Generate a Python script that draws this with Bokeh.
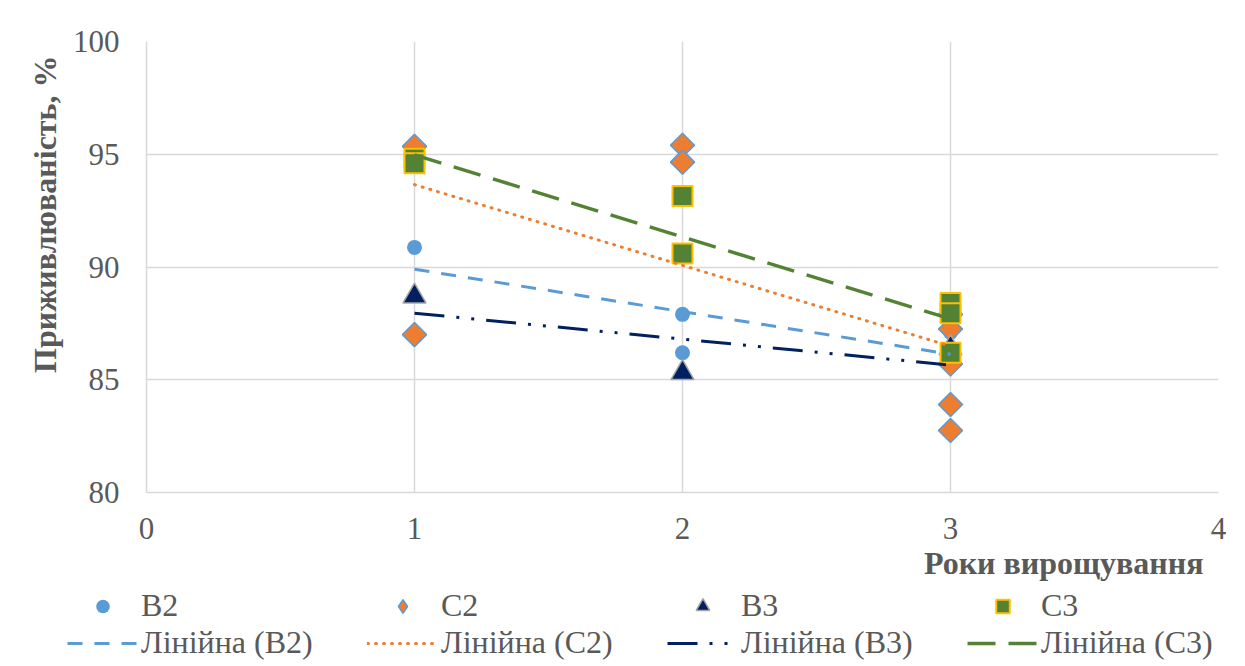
import numpy as np
from bokeh.plotting import figure
from bokeh.models import Legend, LegendItem, Title, FixedTicker
from bokeh.layouts import column, row
from bokeh.embed import file_html
from bokeh.resources import INLINE

# ---- data ----
b2_x = [1, 2, 2, 3]
b2_y = [90.87, 87.9, 86.2, 87.1]
c2_x = [1, 1, 2, 2, 3, 3, 3, 3, 3]
c2_y = [95.35, 87.0, 95.4, 94.65, 87.9, 87.25, 85.7, 83.9, 82.75]
b3_x = [1, 2, 3]
b3_y = [88.7, 85.3, 86.4]
c3_x = [1, 1, 2, 2, 3, 3, 3]
c3_y = [94.8, 94.6, 93.15, 90.6, 88.4, 87.95, 86.2]

series_names = ["B2", "C2", "B3", "C3"]
trend_names = ["Лінійна (B2)", "Лінійна (C2)", "Лінійна (B3)", "Лінійна (C3)"]
x_ticks = [0, 1, 2, 3, 4]
y_ticks = [80, 85, 90, 95, 100]
x_title = "Роки вирощування"
y_title = "Приживлюваність, %"

FONT = "Liberation Serif"
TXT = "#595959"
GRID = "#d9d9d9"

marker_styles = [
    dict(marker="circle", size=15, angle=0, fill_color="#5B9BD5", line_color=None, line_width=1),
    dict(marker="square", size=17, angle=np.pi / 4, fill_color="#ED7D31", line_color="#5B9BD5", line_width=1.5),
    dict(marker="triangle", size=23, angle=0, fill_color="#002060", line_color="#A5A5A5", line_width=1.5),
    dict(marker="square", size=20, angle=0, fill_color="#548235", line_color="#FFC000", line_width=2),
]
legend_markers = ["circle", "diamond", "triangle", "square"]
line_styles = [
    dict(line_color="#5B9BD5", line_width=3, line_dash="15 12", line_cap="butt"),
    dict(line_color="#ED7D31", line_width=3, line_dash="1 7", line_cap="round"),
    dict(line_color="#002060", line_width=3, line_dash="30 12 3 12 3 12", line_cap="butt"),
    dict(line_color="#548235", line_width=3.5, line_dash="28 13", line_cap="butt"),
]

p = figure(frame_width=1072, frame_height=451, x_range=(0, 4), y_range=(80, 100),
           output_backend="svg", toolbar_location=None,
           min_border_left=146, min_border_top=41, min_border_right=20, min_border_bottom=0)
p.outline_line_color = None
p.background_fill_color = "white"
p.border_fill_color = "white"

for ax in (p.xaxis[0], p.yaxis[0]):
    ax.major_tick_in = 0
    ax.major_tick_out = 0
    ax.minor_tick_in = 0
    ax.minor_tick_out = 0
    ax.axis_line_color = GRID
    ax.axis_line_width = 1.5
    ax.major_label_text_font = FONT
    ax.major_label_text_font_size = "31px"
    ax.major_label_text_color = TXT
p.xaxis[0].ticker = FixedTicker(ticks=x_ticks)
p.yaxis[0].ticker = FixedTicker(ticks=y_ticks)
p.xaxis[0].major_label_standoff = 25
p.yaxis[0].major_label_standoff = 27
p.xgrid[0].ticker = FixedTicker(ticks=x_ticks)
p.ygrid[0].ticker = FixedTicker(ticks=y_ticks)
for g in (p.xgrid[0], p.ygrid[0]):
    g.grid_line_color = GRID
    g.grid_line_width = 1.5

# ---- markers ----
data = [(b2_x, b2_y), (c2_x, c2_y), (b3_x, b3_y), (c3_x, c3_y)]
for (xs, ys), ms in zip(data, marker_styles):
    p.scatter(xs, ys, **ms)

# ---- linear trend lines (least squares, as Excel) ----
def trend(xs, ys):
    k, b = np.polyfit(xs, ys, 1)
    xx = [min(xs), max(xs)]
    return xx, [k * v + b for v in xx]

for (xs, ys), ls in zip(data, line_styles):
    tx, ty = trend(xs, ys)
    p.line(tx, ty, **ls)

# ---- axis titles ----
p.add_layout(Title(text=x_title, align="right", offset=15, text_font=FONT,
                   text_font_size="32px", text_font_style="bold", text_color=TXT,
                   standoff=2), "below")
p.add_layout(Title(text=y_title, align="right", offset=14, text_font=FONT,
                   text_font_size="32px", text_font_style="bold", text_color=TXT,
                   standoff=13), "left")

# ---- legend strip (separate figure below the chart) ----
lf = figure(width=1238, height=80, x_range=(0, 1), y_range=(0, 1),
            x_axis_type=None, y_axis_type=None,
            min_border=0, min_border_left=0, min_border_right=0,
            min_border_top=0, min_border_bottom=0,
            output_backend="svg", toolbar_location=None)
lf.outline_line_color = None
lf.background_fill_color = "white"
lf.border_fill_color = "white"
lf.xgrid.visible = False
lf.ygrid.visible = False

marker_items, line_items = [], []
for name, tname, ms, lm, ls in zip(series_names, trend_names, marker_styles, legend_markers, line_styles):
    st = dict(ms)
    st["marker"] = lm
    st.pop("angle")
    st.pop("size")
    rm = lf.scatter([-5], [-5], size=15, **st)
    rl = lf.line([-5, -4], [-5, -5], **ls)
    marker_items.append(LegendItem(label=name, renderers=[rm]))
    line_items.append(LegendItem(label=tname, renderers=[rl]))

legend = Legend(items=marker_items + line_items, orientation="horizontal", ncols=4,
                location=(67, 0), glyph_width=71, glyph_height=34, label_standoff=3,
                label_width=226, spacing=0, padding=0, margin=0,
                border_line_color=None, background_fill_alpha=0,
                label_text_font="'Liberation Serif'", label_text_font_size="32px",
                label_text_color=TXT)
lf.add_layout(legend, "center")

open("out.html", "w").write(file_html(column(p, row(lf, spacing=0), spacing=0), INLINE))
